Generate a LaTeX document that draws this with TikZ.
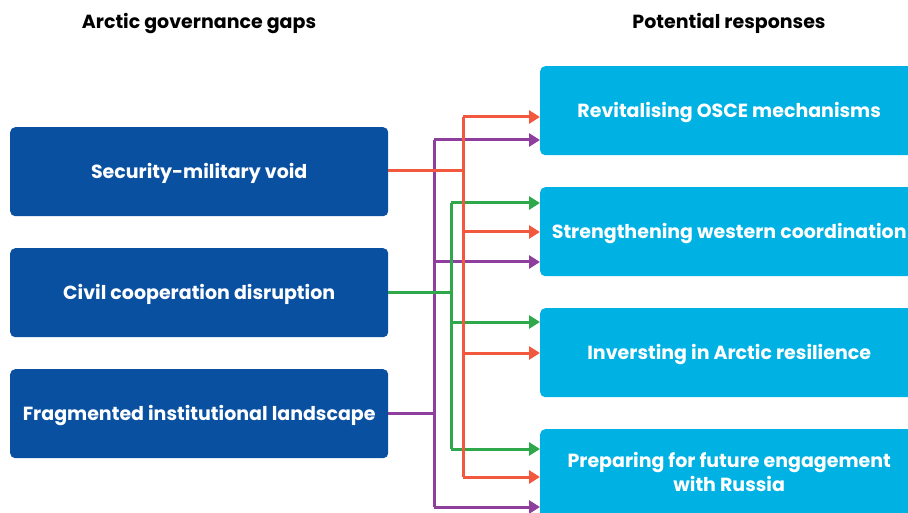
\documentclass[tikz,border=0pt]{standalone}
\usepackage{fontspec}
\setmainfont{Poppins}
\usetikzlibrary{arrows.meta,positioning}

\definecolor{gapblue}{RGB}{10,80,160}
\definecolor{respblue}{RGB}{0,178,227}
\definecolor{linered}{RGB}{242,88,62}
\definecolor{linegreen}{RGB}{46,168,74}
\definecolor{linepurple}{RGB}{142,63,158}

\begin{document}
\begin{tikzpicture}[x=1pt, y=-1pt,
    gap/.style={fill=gapblue, rounded corners=5pt, text=white, font=\bfseries\fontsize{19}{24}\selectfont,
        minimum width=378pt, minimum height=89pt, inner sep=0pt, anchor=north west,
        text height=16pt, text depth=3pt},
    resp/.style={fill=respblue, rounded corners=5pt, text=white, font=\bfseries\fontsize{19}{24}\selectfont,
        minimum width=378pt, minimum height=89pt, inner sep=0pt, anchor=north west, align=center,
        text height=16pt, text depth=3pt},
    heading/.style={font=\bfseries\fontsize{19}{24}\selectfont},
    link/.style={line width=3pt},
    tip/.style={-{Triangle[length=11pt,width=13pt]}}]
    \useasboundingbox (0,0) rectangle (908,513);
    \clip (0,0) rectangle (908,513);

    % Column headings
    \node[heading] (gapshead) at (199,23.5) {Arctic governance gaps};
    \node[heading] (resphead) at (729,23.5) {Potential responses};

    % Governance gaps
    \node[gap] (gap1) at (10,127) {Security-military void};
    \node[gap] (gap2) at (10,248) {Civil cooperation disruption};
    \node[gap] (gap3) at (10,369) {Fragmented institutional landscape};

    % Responses
    \node[resp] (resp1) at (540,66) {Revitalising OSCE mechanisms};
    \node[resp] (resp2) at (540,187) {Strengthening western coordination};
    \node[resp] (resp3) at (540,308) {Inversting in Arctic resilience};
    \node[resp, minimum height=91pt, text height=39pt, text depth=5pt] (resp4) at (540,429)
        {Preparing for future engagement\\with Russia};

    % Branch points on the trunks
    \coordinate (r0) at (463,171);
    \coordinate (r1) at (463,117);
    \coordinate (r2) at (463,232);
    \coordinate (r3) at (463,353);
    \coordinate (r4) at (463,477);
    \coordinate (g0) at (451,292);
    \coordinate (g1) at (451,203);
    \coordinate (g2) at (451,322);
    \coordinate (g3) at (451,449);
    \coordinate (p0) at (434,413);
    \coordinate (p1) at (434,140);
    \coordinate (p2) at (434,262);
    \coordinate (p3) at (434,507);

    % Purple: fragmented landscape
    \draw[link, linepurple] (gap3.east |- p0) -- (p0);
    \draw[link, linepurple] (p1) -- (p3);
    \draw[link, linepurple, tip] (p1) -- (p1 -| resp1.west);
    \draw[link, linepurple, tip] (p2) -- (p2 -| resp2.west);
    \draw[link, linepurple, tip] (p3) -- (p3 -| resp4.west);

    % Green: civil cooperation
    \draw[link, linegreen] (gap2.east |- g0) -- (g0);
    \draw[link, linegreen] (g1) -- (g3);
    \draw[link, linegreen, tip] (g1) -- (g1 -| resp2.west);
    \draw[link, linegreen, tip] (g2) -- (g2 -| resp3.west);
    \draw[link, linegreen, tip] (g3) -- (g3 -| resp4.west);

    % Red: security-military void
    \draw[link, linered] (gap1.east |- r0) -- (r0);
    \draw[link, linered] (r1) -- (r4);
    \draw[link, linered, tip] (r1) -- (r1 -| resp1.west);
    \draw[link, linered, tip] (r2) -- (r2 -| resp2.west);
    \draw[link, linered, tip] (r3) -- (r3 -| resp3.west);
    \draw[link, linered, tip] (r4) -- (r4 -| resp4.west);
\end{tikzpicture}
\end{document}
